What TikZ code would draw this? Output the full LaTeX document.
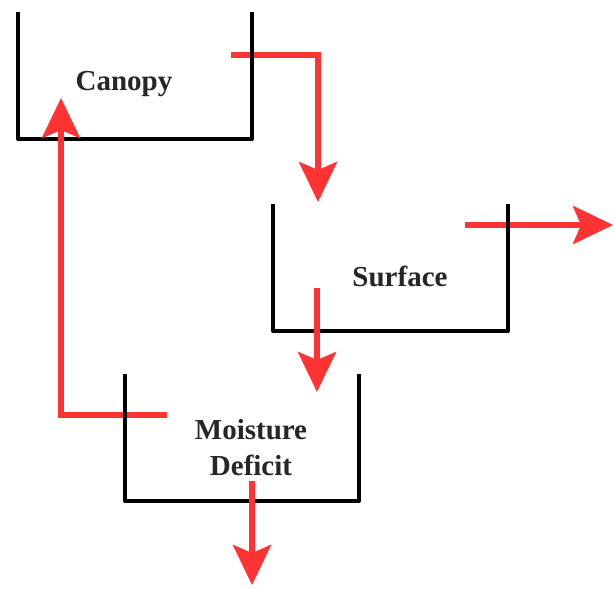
\documentclass[tikz,border=0pt]{standalone}
\usepackage{fontspec}
\setmainfont{Liberation Serif}
\usetikzlibrary{arrows.meta}
\definecolor{flowred}{HTML}{FF3333}
\begin{document}
\begin{tikzpicture}[x=0.5pt,y=-0.5pt,
  bucket/.style={line width=2pt, draw=black, line join=round},
  flow/.style={line width=2.7pt, draw=flowred, -{Stealth[length=20pt,width=19pt,inset=4pt,fill=flowred]}},
  lbl/.style={font=\bfseries\fontsize{14.5pt}{18pt}\selectfont, text=black!85, align=center, inner sep=0pt}]
\useasboundingbox (0,0) rectangle (614,588);
% coordinates of flow ends
\coordinate (c1) at (231,55);  \coordinate (c2) at (318,202);
\coordinate (s1) at (465,225); \coordinate (s2) at (613,225);
\coordinate (s3) at (317,288); \coordinate (s4) at (317,392);
\coordinate (m1) at (167,415); \coordinate (m2) at (61,98);
\coordinate (m3) at (252,481); \coordinate (m4) at (252,585);
% canopy
\draw[flow] (c1) -| (c2);
\draw[bucket] (18,12) -- (18,139) -- (252,139) -- (252,12);
\node[lbl] (canopy) at (124,84) {Canopy};
% surface
\draw[flow] (s1) -- (s2);
\draw[bucket] (273,204) -- (273,331) -- (508,331) -- (508,204);
\node[lbl] (surface) at (400,276) {Surface};
\draw[flow] (s3) -- (s4);
% moisture deficit
\draw[flow] (m1) -| (m2);
\draw[bucket] (125,374) -- (125,501) -- (359,501) -- (359,374);
\node[lbl] (moist) at (251,448) {Moisture\\Deficit};
\draw[flow] (m3) -- (m4);
\end{tikzpicture}
\end{document}
